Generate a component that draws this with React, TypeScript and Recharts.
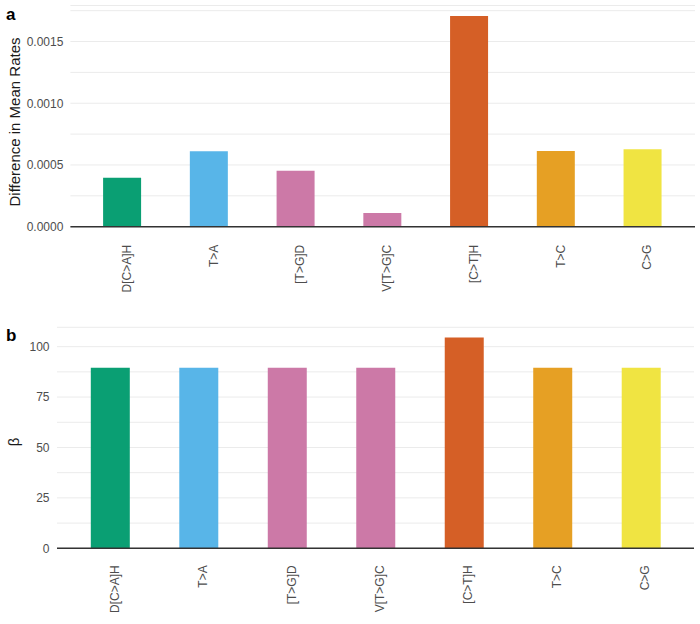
import React from 'react';
import { BarChart, Bar, XAxis, YAxis, CartesianGrid, Cell } from 'recharts';

const categories = ['D[C>A]H', 'T>A', '[T>G]D', 'V[T>G]C', '[C>T]H', 'T>C', 'C>G'];
const diffMeanRates = [0.000397, 0.000612, 0.000454, 0.000112, 0.001707, 0.000613, 0.000627];
const betaValues = [89.6, 89.6, 89.6, 89.6, 104.5, 89.6, 89.6];
const barColors = ['#0A9F73', '#58B5E8', '#CC79A7', '#CC79A7', '#D55F26', '#E6A024', '#F0E442'];

const ticksA = [0, 0.00025, 0.0005, 0.00075, 0.001, 0.00125, 0.0015, 0.00175];
const majorTicksA = [0, 0.0005, 0.001, 0.0015];
const ticksB = [0, 12.5, 25, 37.5, 50, 62.5, 75, 87.5, 100];
const majorTicksB = [0, 25, 50, 75, 100];

const dataA = categories.map((c, i) => ({ name: c, value: diffMeanRates[i] }));
const dataB = categories.map((c, i) => ({ name: c, value: betaValues[i] }));

const FONT = '"Liberation Sans", Arial, sans-serif';
const GRID = '#ebebeb';
const AXIS = '#333333';
const TICK = '#4d4d4d';

// rotated category label, top end just under the axis
const XTick = ({ x, y, payload }: any) => {
  const bx = x + 8.5;
  return (
    <text
      x={bx}
      y={y}
      transform={`rotate(-90, ${bx}, ${y})`}
      textAnchor="end"
      fontSize={12}
      fontFamily={FONT}
      fill={TICK}
    >
      {payload.value}
    </text>
  );
};

const isMajor = (v: number, list: number[]) => list.some((m) => Math.abs(m - v) < 1e-9);

const App: React.FC = () => {
  return (
    <div style={{ position: 'absolute', left: 0, top: 0, width: 700, height: 624, background: '#fff' }}>
      <div style={{ position: 'absolute', left: 0, top: 0 }}>
        <BarChart width={700} height={320} data={dataA} margin={{ top: 5.5, right: 5, left: 0, bottom: 0 }}>
          <CartesianGrid vertical={false} stroke={GRID} strokeWidth={1} />
          <XAxis
            dataKey="name"
            height={93.3}
            tickLine={false}
            tickSize={0}
            tickMargin={18}
            axisLine={{ stroke: AXIS, strokeWidth: 1.4 }}
            padding={{ left: 8.7, right: 8.7 }}
            tick={<XTick />}
            interval={0}
          />
          <YAxis
            width={70.4}
            domain={[0, 0.001792]}
            ticks={ticksA}
            axisLine={false}
            tickLine={false}
            tickSize={0}
            tickMargin={7}
            tick={{ fontSize: 12, fill: TICK, fontFamily: FONT }}
            tickFormatter={(v: number) => (isMajor(v, majorTicksA) ? v.toFixed(4) : '')}
            allowDataOverflow
          />
          <Bar dataKey="value" barSize={38} isAnimationActive={false}>
            {dataA.map((d, i) => (
              <Cell key={d.name} fill={barColors[i]} />
            ))}
          </Bar>
        </BarChart>
      </div>
      <div style={{ position: 'absolute', left: 0, top: 320 }}>
        <BarChart width={700} height={304} data={dataB} margin={{ top: 7.3, right: 6, left: 0, bottom: 0 }}>
          <CartesianGrid vertical={false} stroke={GRID} strokeWidth={1} />
          <XAxis
            dataKey="name"
            height={75.7}
            tickLine={false}
            tickSize={0}
            tickMargin={17}
            axisLine={{ stroke: AXIS, strokeWidth: 1.4 }}
            padding={{ left: 8.8, right: 8.8 }}
            tick={<XTick />}
            interval={0}
          />
          <YAxis
            width={57}
            domain={[0, 109.6]}
            ticks={ticksB}
            axisLine={false}
            tickLine={false}
            tickSize={0}
            tickMargin={7.5}
            tick={{ fontSize: 12, fill: TICK, fontFamily: FONT }}
            tickFormatter={(v: number) => (isMajor(v, majorTicksB) ? String(v) : '')}
            allowDataOverflow
          />
          <Bar dataKey="value" barSize={39} isAnimationActive={false}>
            {dataB.map((d, i) => (
              <Cell key={d.name} fill={barColors[i]} />
            ))}
          </Bar>
        </BarChart>
      </div>
      <svg
        width={700}
        height={624}
        style={{ position: 'absolute', left: 0, top: 0, pointerEvents: 'none' }}
      >
        <text x={6} y={20} fontSize={17} fontWeight="bold" fontFamily={FONT} fill="#000">a</text>
        <text x={6} y={341} fontSize={17} fontWeight="bold" fontFamily={FONT} fill="#000">b</text>
        <text
          x={20}
          y={122}
          transform="rotate(-90, 20, 122)"
          textAnchor="middle"
          fontSize={15}
          fontFamily={FONT}
          fill="#1a1a1a"
        >
          Difference in Mean Rates
        </text>
        <text
          x={19}
          y={442}
          transform="rotate(-90, 19, 442)"
          textAnchor="middle"
          fontSize={15}
          fontFamily={FONT}
          fill="#1a1a1a"
        >
          β
        </text>
      </svg>
    </div>
  );
};

export default App;
